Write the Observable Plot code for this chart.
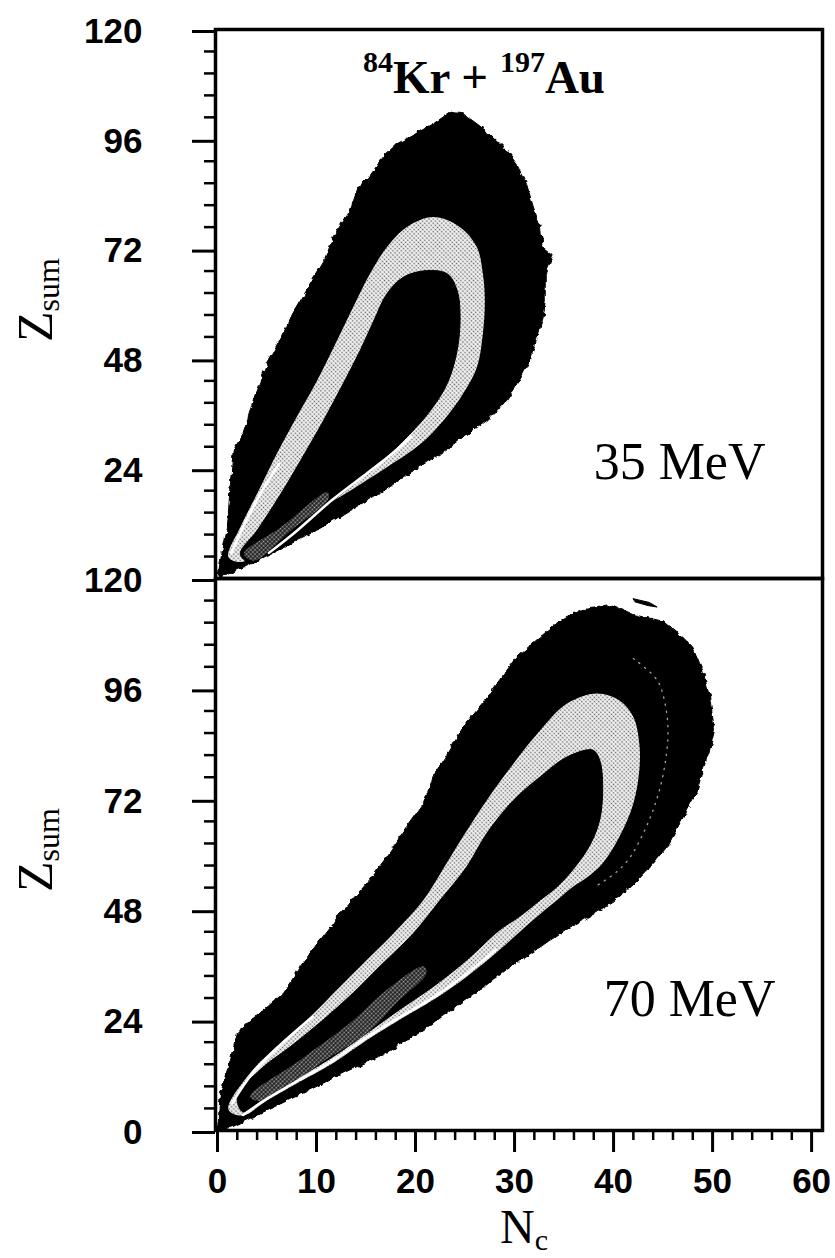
<!DOCTYPE html>
<html>
<head>
<meta charset="utf-8">
<script src="https://cdn.jsdelivr.net/npm/d3@7"></script>
<script src="https://cdn.jsdelivr.net/npm/@observablehq/plot@0.6"></script>
<style>
  html, body { margin: 0; padding: 0; background: #fff; }
  #chart { position: relative; width: 835px; height: 1258px; overflow: hidden; background: #fff; }
  #chart svg.panel { position: absolute; left: 0; }
</style>
</head>
<body>
<!-- halftone fills and a ragged-edge filter for the contour regions -->
<svg width="0" height="0" style="position:absolute">
  <defs>
    <pattern id="halftone" width="3" height="3" patternUnits="userSpaceOnUse" patternTransform="rotate(45)">
      <rect width="3" height="3" fill="#eeeeee"></rect>
      <circle cx="1.5" cy="1.5" r="0.8" fill="#606060"></circle>
    </pattern>
    <pattern id="halftoneDark" width="3" height="3" patternUnits="userSpaceOnUse" patternTransform="rotate(45)">
      <rect width="3" height="3" fill="#1c1c1c"></rect>
      <circle cx="1.5" cy="1.5" r="0.95" fill="#a8a8a8"></circle>
    </pattern>
    <filter id="rough" x="-5%" y="-5%" width="110%" height="110%">
      <feTurbulence type="fractalNoise" baseFrequency="0.14" numOctaves="2" seed="7" result="noise"></feTurbulence>
      <feDisplacementMap in="SourceGraphic" in2="noise" scale="6" xChannelSelector="R" yChannelSelector="G"></feDisplacementMap>
    </filter>
  </defs>
</svg>
<div id="chart"></div>
<script>
// ---- axes ----
const xMajor = [0, 10, 20, 30, 40, 50, 60];
const yMajorTop = [24, 48, 72, 96, 120];
const yMajorBottom = [0, 24, 48, 72, 96, 120];
const energyTop = "35 MeV";
const energyBottom = "70 MeV";

// ---- 35 MeV contours: [Nc, Zsum] boundary points ----
const kr35Outer = [
  [0,0],[0.3,3.9],[1.0,11.2],[1.3,20.7],[1.6,28],[2.6,31.7],[3.0,34.5],[3.8,40.4],[5.0,46.9],
  [6.3,52],[7.6,57.9],[9.2,63.7],[10.8,69.5],[11.7,74.6],[13.4,80.4],[14.2,85.5],[15.3,87.7],
  [16.7,92.1],[18.1,95],[20.0,97.2],[21.8,99.4],[23.5,101.9],[24.8,101.6],[26.2,99.4],[27.5,97.2],
  [28.9,94.3],[30.2,90.6],[31.2,86.3],[31.9,81.2],[32.6,76.8],[32.9,72.4],[33.9,70.6],[33.1,66.6],
  [33.1,60.8],[32.9,57.1],[32.2,52],[31.6,47.7],[30.5,43.3],[29.2,38.9],[27.2,34.5],[24.8,30.9],
  [22.5,27.3],[19.8,23.6],[16.8,19.2],[13.4,14.9],[10.0,10.5],[6.7,6.8],[2.65,2.5]
];
const kr35Band = [
  [1.1,4.7],[2.3,11.2],[4.0,18.5],[6.0,27.3],[8.0,35.3],[9.7,41.8],[11.1,47.7],[12.4,53.5],
  [13.7,59.3],[15.4,66.6],[17.1,72.4],[19.1,76.8],[21.8,79.0],[24.5,76.8],[26.2,72.4],[26.8,66.6],
  [27.0,60.8],[26.8,53.5],[26.2,46.2],[24.8,40.4],[22.8,34.5],[20.5,29.4],[17.1,24.3],[13.4,19.2],
  [10.1,14.9],[7.4,10.5],[4.6,6.4],[2.4,3.6]
];
const kr35Inner = [
  [2.3,5.4],[4.0,10.5],[6.4,18.5],[8.4,25.8],[10.7,34.5],[12.7,42.6],[14.4,49.8],[15.8,56.4],
  [17.1,62.2],[18.8,65.9],[21.1,67.3],[23.2,66.6],[24.2,63.0],[24.5,57.1],[24.2,49.8],[23.2,42.6],
  [21.5,36.7],[19.4,31.5],[17.0,26.5],[14.4,21.8],[11.8,17.2],[8.8,12.0],[6.0,7.6],[3.2,3.6]
];
const kr35Core = [[2.65,5.4],[6.4,11.2],[11.1,18.9],[11.2,17.4],[7.4,10.5],[3.7,3.9]];
const kr35SeamRight = [[19.6,31.0],[17.6,27.2],[15.1,23.0],[11.6,17.2],[8.0,10.4],[5.2,5.6]];
const kr35SeamLeft = [[1.4,5.5],[2.6,11.3],[4.3,18.4],[6.2,25.0]];

// ---- 70 MeV contours ----
const kr70Outer = [
  [0,0],[0.3,8.2],[1.3,15.4],[2.0,21.2],[4.3,25.5],[6.7,29.9],[8.4,35.7],[10.1,40.7],[12.7,48.0],
  [15.1,53.8],[17.1,59.5],[19.1,66.0],[20.8,71.1],[21.8,76.9],[23.5,82.7],[24.8,87.7],[26.8,92.8],
  [28.5,97.9],[30.2,102.9],[32.6,107.3],[34.2,110.2],[36.6,113.1],[39.9,114.2],[42.0,112.2],
  [45.0,110.7],[47.0,107.2],[48.0,105.1],[49.0,100.0],[49.7,94.3],[50.2,87.0],[49.7,82.7],
  [49.0,78.3],[48.4,73.5],[47.0,68.0],[45.5,62.0],[43.6,57.0],[41.8,53.0],[39.8,49.5],[37.3,46.3],
  [34.8,43.2],[32.4,39.6],[29.6,35.6],[26.8,31.0],[23.7,26.3],[20.2,21.0],[16.8,16.6],[13.0,12.8],
  [9.0,8.5],[5.0,4.4],[1.6,0.9]
];
const kr70Band = [
  [1.1,4.6],[3.3,12.5],[6.0,18.3],[9.4,24.8],[12.4,31.3],[15.1,37.1],[17.8,42.9],[20.8,50.1],
  [22.8,56.9],[24.8,63.9],[27.2,71.8],[29.9,79.8],[32.6,87.0],[35.3,92.8],[38.3,95.0],[40.6,93.5],
  [42.0,89.9],[42.6,84.1],[42.6,78.3],[42.0,71.1],[40.6,63.9],[38.9,58.1],[37.3,55.0],[35.9,53.0],
  [34.3,50.1],[31.9,45.8],[28.5,39.3],[25.2,33.5],[21.8,28.4],[18.4,24.1],[15.1,19.7],[11.7,14.7],
  [8.4,10.7],[5.0,6.5],[2.5,3.2]
];
const kr70Inner = [
  [2.0,7.4],[4.3,13.2],[7.4,18.3],[10.7,24.1],[13.7,29.9],[16.4,35.7],[19.8,42.9],[22.5,50.1],
  [25.2,57.4],[27.2,64.6],[29.9,71.8],[32.6,76.9],[35.3,81.2],[37.9,82.7],[38.6,80.5],[38.9,74.7],
  [38.6,67.5],[37.6,62.0],[36.0,57.0],[34.3,53.0],[32.6,50.1],[30.5,46.5],[28.5,43.6],[25.2,37.1],
  [21.8,31.3],[18.4,26.3],[15.1,21.2],[11.7,16.1],[8.4,11.8],[5.0,7.5],[2.6,4.0]
];
const kr70Core = [
  [3.3,7.4],[8.4,15.4],[13.4,23.4],[17.1,30.6],[20.8,35.7],[21.1,34.2],[18.4,28.4],[15.1,21.2],
  [10.6,14.9],[7.0,9.6],[4.3,6.4]
];
const kr70SeamRight = [[28.1,39.3],[24.8,33.5],[21.4,28.4],[18.0,24.1],[14.7,19.7],[11.3,14.7],[8.0,10.7],[4.7,6.5],[2.6,3.4]];
const kr70SeamLeft = [[1.5,6.0],[3.6,12.6],[6.3,18.5],[9.6,24.7]];
const kr70Speck = [[42.0,115.6],[43.6,114.8],[44.4,113.8],[43.5,114.1],[42.2,114.9]];
// faint dotted level trace inside the outer 70 MeV region
const kr70Trace = [
  [42.0,102.6],[44.4,97.9],[45.2,92.8],[45.5,87.0],[45.3,81.2],[44.8,75.4],[44.0,69.7],
  [43.0,64.6],[41.7,59.5],[40.3,56.2],[38.3,53.2]
];

// ---- drawing ----
const W = 835;
const X_DOMAIN = [-0.2, 61.1];
const Y_DOMAIN = [0, 120];
const SANS = "'Liberation Sans', Arial, Helvetica, sans-serif";
const SERIF = "'Liberation Serif', 'Times New Roman', Times, serif";
const px = d => d[0], pz = d => d[1];
const isMultiple = (v, step) => Math.abs(v / step - Math.round(v / step)) < 1e-6;
const yMinor = d3.range(0, 120.01, 4.8).filter(v => !isMultiple(v, 24));
const xMinor = d3.range(0, 61, 2).filter(v => !isMultiple(v, 10));

function region(data, fill, curve) {
  return Plot.line(data, {x: px, y: pz, fill, stroke: fill === "black" ? "black" : "none",
    strokeWidth: fill === "black" ? 1 : 0, curve});
}
function seam(data) {
  return Plot.line(data, {x: px, y: pz, stroke: "white", strokeWidth: 2.5, curve: "catmull-rom"});
}

function panel(o) {
  const marks = [
    region(o.outer, "black", "linear-closed"),
    ...(o.traces || []).map(t => Plot.line(t, {x: px, y: pz, stroke: "#9a9a9a", strokeWidth: 1.4,
      strokeDasharray: "1.2,6", curve: "catmull-rom"})),
    region(o.band, "url(#halftone)", "catmull-rom-closed"),
    region(o.inner, "black", "catmull-rom-closed"),
    region(o.core, "url(#halftoneDark)", "catmull-rom-closed"),
    ...o.seams.map(seam),
    ...(o.specks || []).map(s => region(s, "black", "linear-closed")),
    Plot.axisY(yMinor, {tickSize: 11, strokeWidth: 2.5, tickFormat: () => "", label: null}),
    Plot.axisY(o.yTicks, {tickSize: 23, tickPadding: 50, strokeWidth: 3, label: null, dy: 2,
      fontSize: 35, fontWeight: "bold", fontFamily: SANS}),
    Plot.text([o.energy], {frameAnchor: "bottom-right", textAnchor: "end", lineAnchor: "bottom",
      dx: o.energyDx, dy: o.energyDy, fontFamily: SERIF, fontSize: 52, fontWeight: "normal"}),
    Plot.frame({stroke: "black", strokeWidth: 3.5})
  ];
  if (o.showX) {
    marks.push(
      Plot.axisX(xMinor, {tickSize: 10, strokeWidth: 2.5, tickFormat: () => "", label: null}),
      Plot.axisX(xMajor, {tickSize: 22, tickPadding: 16, strokeWidth: 3, label: null,
        fontSize: 35, fontWeight: "bold", fontFamily: SANS})
    );
  }
  const svg = Plot.plot({
    width: W, height: o.height,
    marginLeft: 215, marginRight: 13, marginTop: o.marginTop, marginBottom: o.marginBottom,
    style: {background: "transparent", overflow: "visible", color: "black",
      fontFamily: SANS, fontSize: "35px", fontWeight: "bold"},
    x: {domain: X_DOMAIN, axis: null},
    y: {domain: Y_DOMAIN},
    marks
  });
  svg.classList.add("panel");
  svg.style.top = o.top + "px";
  // ragged edge on the outermost contour (first line mark)
  const outerGroup = svg.querySelector('g[aria-label="line"]');
  if (outerGroup) outerGroup.setAttribute("filter", "url(#rough)");
  return svg;
}

function subscripted(svg, {x, y, rotate, main, sub, mainSize, subSize, shift}) {
  const t = d3.select(svg).append("text")
    .attr("transform", `translate(${x},${y})` + (rotate ? ` rotate(${rotate})` : ""))
    .attr("text-anchor", "middle")
    .attr("font-family", SERIF).attr("font-weight", "normal").attr("fill", "black");
  t.append("tspan").attr("font-size", mainSize).text(main);
  t.append("tspan").attr("font-size", subSize).attr("dy", shift).text(sub);
  return t;
}

const chart = document.getElementById("chart");

const topSvg = panel({
  outer: kr35Outer, band: kr35Band, inner: kr35Inner, core: kr35Core,
  seams: [kr35SeamRight, kr35SeamLeft],
  yTicks: yMajorTop, energy: energyTop, energyDx: -57, energyDy: -100,
  top: 0, height: 580, marginTop: 29, marginBottom: 2, showX: false
});
const bottomSvg = panel({
  outer: kr70Outer, band: kr70Band, inner: kr70Inner, core: kr70Core,
  seams: [kr70SeamRight, kr70SeamLeft], specks: [kr70Speck], traces: [kr70Trace],
  yTicks: yMajorBottom, energy: energyBottom, energyDx: -47, energyDy: -115,
  top: 576, height: 682, marginTop: 2, marginBottom: 128, showX: true
});
chart.append(topSvg, bottomSvg);

// reaction label with mass-number superscripts
const title = d3.select(topSvg).append("text")
  .attr("x", 484).attr("y", 93).attr("text-anchor", "middle")
  .attr("font-family", SERIF).attr("font-weight", "bold").attr("fill", "black");
title.append("tspan").attr("font-size", 30).attr("dy", -21).text("84");
title.append("tspan").attr("font-size", 47).attr("dy", 21).text("Kr + ");
title.append("tspan").attr("font-size", 30).attr("dy", -21).text("197");
title.append("tspan").attr("font-size", 47).attr("dy", 21).text("Au");

// axis titles
subscripted(topSvg, {x: 52, y: 300, rotate: -90, main: "Z", sub: "sum", mainSize: 50, subSize: 32, shift: 7});
subscripted(bottomSvg, {x: 52, y: 274, rotate: -90, main: "Z", sub: "sum", mainSize: 50, subSize: 32, shift: 7});
subscripted(bottomSvg, {x: 524, y: 667, main: "N", sub: "c", mainSize: 48, subSize: 30, shift: 7});
</script>
</body>
</html>
